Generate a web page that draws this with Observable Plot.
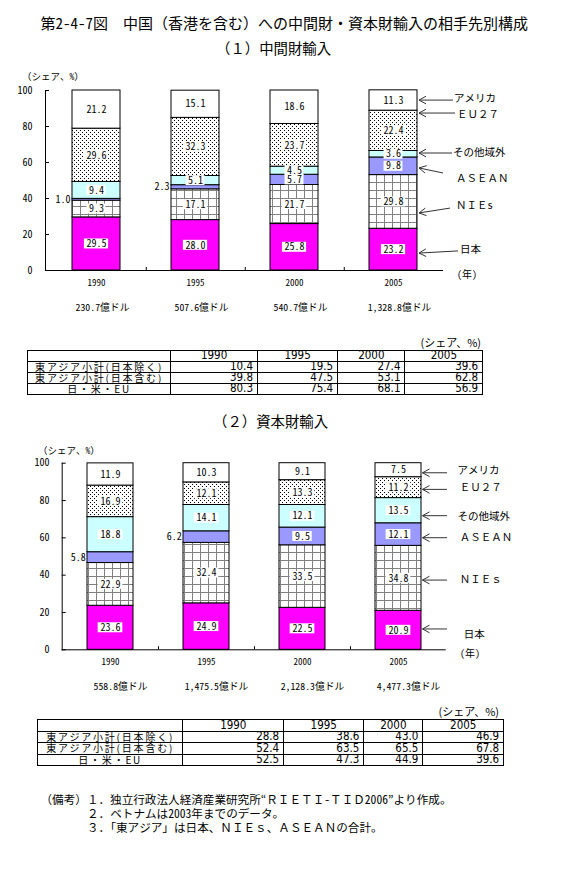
<!DOCTYPE html>
<html><head><meta charset="utf-8">
<script src="https://cdn.jsdelivr.net/npm/d3@7"></script>
<script src="https://cdn.jsdelivr.net/npm/@observablehq/plot@0.6"></script>
<style>
html,body{margin:0;padding:0;background:#fff;}
#page{position:relative;width:588px;height:895px;overflow:hidden;background:#fff;color:#000;
  font-family:"Noto Sans Mono CJK JP","Noto Sans CJK JP",sans-serif;}
.abs{position:absolute;white-space:pre;line-height:1;}
.plotbox{position:absolute;left:0;}
.tbl{position:absolute;display:grid;border-top:1px solid #000;border-left:1px solid #000;}
.tbl div{box-sizing:border-box;border-right:1px solid #000;border-bottom:1px solid #000;display:flex;align-items:center;overflow:visible;white-space:nowrap;line-height:1;}
.tbl .num{justify-content:flex-end;padding-right:4px;font-family:"Liberation Sans Narrow","DejaVu Sans Condensed","Liberation Sans",Arial,sans-serif;font-size:11.5px;}
.tbl .hd{justify-content:center;font-family:"Liberation Sans Narrow","DejaVu Sans Condensed","Liberation Sans",Arial,sans-serif;font-size:11.5px;}
.tbl .lab{justify-content:center;font-family:"Noto Sans CJK JP",sans-serif;font-size:10px;letter-spacing:1.8px;}
</style></head>
<body>
<svg width="0" height="0" style="position:absolute">
  <defs>
    <pattern id="nieGrid" width="8" height="8" patternUnits="userSpaceOnUse">
      <rect width="8" height="8" fill="#fff"/>
      <path d="M0,0.5H8M0.5,0V8" stroke="#808080" stroke-width="1"/>
    </pattern>
    <pattern id="euDots" width="4" height="4" patternUnits="userSpaceOnUse">
      <rect width="4" height="4" fill="#fff"/>
      <rect x="0" y="0" width="1" height="1" fill="#000"/>
      <rect x="2" y="2" width="1" height="1" fill="#000"/>
    </pattern>
  </defs>
</svg>
<div id="page"></div>
<script>
// ---------------- DATA ----------------
const years = ["1990", "1995", "2000", "2005"];
const series = ["日本", "NIEs", "ASEAN", "その他域外", "EU27", "アメリカ"];

// (1) 中間財輸入 (シェア %)
const interJapan = [29.5, 28.0, 25.8, 23.2];
const interNIEs  = [9.3, 17.1, 21.7, 29.8];
const interASEAN = [1.0, 2.3, 5.7, 9.8];
const interOther = [9.4, 5.1, 4.5, 3.6];
const interEU    = [29.6, 32.3, 23.7, 22.4];
const interUS    = [21.2, 15.1, 18.6, 11.3];
const interTotals = ["230.7億ドル", "507.6億ドル", "540.7億ドル", "1,328.8億ドル"];

// (2) 資本財輸入 (シェア %)
const capJapan = [23.6, 24.9, 22.5, 20.9];
const capNIEs  = [22.9, 32.4, 33.5, 34.8];
const capASEAN = [5.8, 6.2, 9.5, 12.1];
const capOther = [18.8, 14.1, 12.1, 13.5];
const capEU    = [16.9, 12.1, 13.3, 11.2];
const capUS    = [11.9, 10.3, 9.1, 7.5];
const capTotals = ["558.8億ドル", "1,475.5億ドル", "2,128.3億ドル", "4,477.3億ドル"];

const yTicks = [0, 20, 40, 60, 80, 100];

// tables
const tableYears = ["1990", "1995", "2000", "2005"];
const tableRows = ["東アジア小計(日本除く)", "東アジア小計(日本含む)", "日・米・EU"];
const interTable = [[10.4, 19.5, 27.4, 39.6], [39.8, 47.5, 53.1, 62.8], [80.3, 75.4, 68.1, 56.9]];
const capTable   = [[28.8, 38.6, 43.0, 46.9], [52.4, 63.5, 65.5, 67.8], [52.5, 47.3, 44.9, 39.6]];

// labels drawn beside the bar (segment too thin)
const interOutside = [["1990", "ASEAN"], ["1995", "ASEAN"]];
const capOutside   = [["1990", "ASEAN"], ["1995", "ASEAN"]];

// legend (arrow annotations pointing at the 2005 bar)
const legendNames1 = ["アメリカ", "ＥＵ２７", "その他域外", "ＡＳＥＡＮ", "ＮＩＥs", "日本"];
const legendNames2 = ["アメリカ", "ＥＵ２７", "その他域外", "ＡＳＥＡＮ", "ＮＩＥｓ", "日本"];

const notes = [
  "（備考）１．独立行政法人経済産業研究所“ＲＩＥＴＩ-ＴＩＤ2006”より作成。",
  "２．ベトナムは2003年までのデータ。",
  "３．「東アジア」は日本、ＮＩＥｓ、ＡＳＥＡＮの合計。"
];

// ---------------- STYLE ----------------
const FONT = '"Noto Sans Mono CJK JP","Noto Sans CJK JP",sans-serif';
const fills = ["#FF00FF", "url(#nieGrid)", "#9999FF", "#CCFFFF", "url(#euDots)", "#FFFFFF"];

const legend1 = {
  year: "2005", names: legendNames1, headDx: 2,
  labelY: [95.6, 86.7, 65.6, 51.1, 36.1, 11.7],
  labelDx: [37, 40, 36, 39, 39, 43],
  headY: [94.4, 87.2, 65.0, 56.7, 31.7, 9.4],
  tailY: [94.4, 87.2, 65.0, 53.9, 34.4, 10.6],
  tailDx: [36, 38, 35, 26, 33, 41]
};
const legend2 = {
  year: "2005", names: legendNames2, headDx: 1.5,
  labelY: [96.0, 86.6, 71.4, 59.8, 37.5, 8.0],
  labelDx: [36.4, 38.7, 36.4, 38.7, 38.7, 42.7],
  headY: [94.6, 85.7, 71.6, 59.8, 37.1, 10.9],
  tailY: [94.6, 85.7, 71.6, 59.8, 37.1, 10.9],
  tailDx: [26, 26, 26, 26, 26, 26]
};

// ---------------- HELPERS ----------------
function stackRows(cols) {
  const rows = [];
  years.forEach((yr, i) => {
    let acc = 0;
    series.forEach((s, k) => {
      const v = cols[k][i];
      rows.push({year: yr, series: s, value: v, y1: acc, y2: acc + v, mid: acc + v / 2});
      acc += v;
    });
  });
  return rows;
}

function legendMark(L) {
  return (index, scales) => {
    const sx = scales.x, sy = scales.y;
    const bwid = typeof sx.bandwidth === "function" ? sx.bandwidth() : 0;
    const right = sx(L.year) + bwid;
    const g = d3.create("svg:g").attr("text-anchor", "start");
    L.names.forEach((t, i) => {
      const hx = right + L.headDx, hy = sy(L.headY[i]);
      const tx = right + L.tailDx[i], ty = sy(L.tailY[i]);
      const ang = Math.atan2(ty - hy, tx - hx);
      const len = 8, a1 = ang + 0.5, a2 = ang - 0.5;
      g.append("path")
        .attr("d", `M${tx},${ty}L${hx},${hy}M${hx + len * Math.cos(a1)},${hy + len * Math.sin(a1)}L${hx},${hy}L${hx + len * Math.cos(a2)},${hy + len * Math.sin(a2)}`)
        .attr("fill", "none").attr("stroke", "#333").attr("stroke-width", 1);
      g.append("text").attr("x", right + L.labelDx[i]).attr("y", sy(L.labelY[i]))
        .attr("text-anchor", "start")
        .attr("dy", "0.35em").attr("font-size", 10.5).attr("fill", "#000").text(t);
    });
    return g.node();
  };
}

function makeChart(o) {
  const step = (588 - o.mL - o.mR) / years.length;
  const bw = step * (1 - o.padIn);
  const isOut = d => o.outside.some(([y, s]) => y === d.year && s === d.series);
  const inside = o.rows.filter(d => !isOut(d));
  const outs = o.rows.filter(isOut);
  const lab = d => d.value.toFixed(1);
  const in3 = inside.filter(d => lab(d).length <= 3);
  const in4 = inside.filter(d => lab(d).length > 3);
  const boxH = 5 / o.ppu;
  const inset = n => (bw - (n * 5.3 + 3)) / 2;
  const totalsData = years.map((y, i) => ({year: y, text: o.totals[i]}));
  return Plot.plot({
    width: 588, height: o.height,
    marginLeft: o.mL, marginRight: o.mR, marginTop: o.mT, marginBottom: o.mB,
    style: {fontFamily: FONT, background: "transparent", overflow: "visible", color: "#000"},
    x: {type: "band", domain: years, paddingInner: o.padIn, paddingOuter: o.padIn / 2, label: null},
    y: {domain: [0, 100], label: null},
    color: {type: "ordinal", domain: series, range: fills},
    marks: [
      Plot.barY(o.rows, {x: "year", y1: "y1", y2: "y2", fill: "series", stroke: "#000", strokeWidth: 1}),
      Plot.barY(in4, {x: "year", y1: d => d.mid - boxH, y2: d => d.mid + boxH, fill: "#fff", insetLeft: inset(4), insetRight: inset(4)}),
      Plot.barY(in3, {x: "year", y1: d => d.mid - boxH, y2: d => d.mid + boxH, fill: "#fff", insetLeft: inset(3), insetRight: inset(3)}),
      Plot.text(inside, {x: "year", y: "mid", text: lab, fontSize: 10, fill: "#000"}),
      Plot.text(outs, {x: "year", y: "mid", text: lab, fontSize: 10, fill: "#000", textAnchor: "end", dx: -(bw / 2 + 2)}),
      Plot.ruleY([0], {stroke: "#000"}),
      Plot.frame({anchor: "left", stroke: "#000"}),
      Plot.ruleX(years.slice(0, -1), {x: d => d, dx: step / 2, y1: 0, y2: 3 / o.ppu, stroke: "#000"}),
      Plot.axisY({ticks: yTicks, tickSize: 0, tickPadding: o.yPad, fontSize: 10, tickFormat: d => String(d)}),
      Plot.axisY({ticks: yTicks, tickSize: 4, dx: 4, tickFormat: () => ""}),
      Plot.axisX({tickSize: 0, tickPadding: 9, fontSize: 9}),
      Plot.text(totalsData, {x: "year", text: "text", frameAnchor: "bottom", dy: 40, dx: o.totalsDx, fontSize: 9.8, fill: "#000"}),
      legendMark(o.legend)
    ]
  });
}

function addText(page, text, left, cy, size, extra = "") {
  const d = document.createElement("div");
  d.className = "abs";
  d.style.cssText += `left:${left}px;top:${cy - size / 2}px;font-size:${size}px;${extra}`;
  d.textContent = text;
  page.appendChild(d);
  return d;
}

function makeTable(page, left, top, colW, rowH, values) {
  const t = document.createElement("div");
  t.className = "tbl";
  t.style.left = left + "px";
  t.style.top = top + "px";
  t.style.gridTemplateColumns = colW.map(w => w + "px").join(" ");
  t.style.gridAutoRows = rowH + "px";
  const cell = (cls, txt) => { const c = document.createElement("div"); c.className = cls; c.textContent = txt; t.appendChild(c); };
  cell("lab", "");
  tableYears.forEach(y => cell("hd", y));
  tableRows.forEach((r, i) => {
    cell("lab", r);
    values[i].forEach(v => cell("num", v.toFixed(1)));
  });
  page.appendChild(t);
}

// ---------------- BUILD PAGE ----------------
const page = document.getElementById("page");

addText(page, "第2-4-7図　中国（香港を含む）への中間財・資本財輸入の相手先別構成", 40.5, 22, 15);
addText(page, "（１）中間財輸入", 216, 48, 14.4);
addText(page, "（２）資本財輸入", 213, 421.5, 14.4);

// chart 1
const c1 = makeChart({
  rows: stackRows([interJapan, interNIEs, interASEAN, interOther, interEU, interUS]),
  totals: interTotals, outside: interOutside, legend: legend1,
  mL: 45, mR: 145, mT: 20, mB: 50, height: 250, padIn: 0.518, ppu: 1.8, yPad: 13, totalsDx: 6
});
const w1 = document.createElement("div"); w1.className = "plotbox"; w1.style.top = "70px"; w1.appendChild(c1); page.appendChild(w1);
addText(page, "（シェア、%）", 22, 77, 9.5);
addText(page, "(年)", 457, 274, 10);

// chart 2
const c2 = makeChart({
  rows: stackRows([capJapan, capNIEs, capASEAN, capOther, capEU, capUS]),
  totals: capTotals, outside: capOutside, legend: legend2,
  mL: 61.7, mR: 142.3, mT: 22.7, mB: 52.7, height: 262, padIn: 0.526, ppu: 1.867, yPad: 12.7, totalsDx: 10
});
const w2 = document.createElement("div"); w2.className = "plotbox"; w2.style.top = "440px"; w2.appendChild(c2); page.appendChild(w2);
addText(page, "（シェア、%）", 38, 450.7, 9.5);
addText(page, "(年)", 460, 653, 10);

// tables
addText(page, "(シェア、%)", 0, 342, 11, 'font-family:"Noto Sans CJK JP",sans-serif;text-align:right;width:481px;');
makeTable(page, 27, 350, [143.2, 86.8, 80.2, 67.3, 77.7], 11, interTable);
addText(page, "(シェア、%)", 0, 711, 11, 'font-family:"Noto Sans CJK JP",sans-serif;text-align:right;width:499px;');
makeTable(page, 37, 719, [145.4, 100.8, 80.2, 59, 80.8], 11.5, capTable);

// notes
addText(page, notes[0], 40.5, 800, 11.6);
addText(page, notes[1], 87, 814, 11.6);
addText(page, notes[2], 87, 828, 11.6);
</script>
</body></html>
